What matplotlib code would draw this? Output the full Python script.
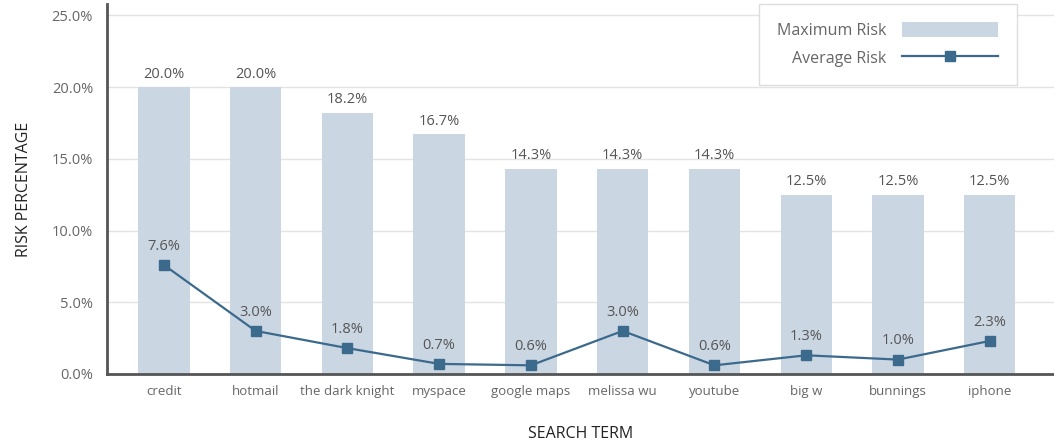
import matplotlib.pyplot as plt
import numpy as np

plt.rcParams['font.family'] = ['Open Sans', 'DejaVu Sans']

# Data
terms = ['credit', 'hotmail', 'the dark knight', 'myspace', 'google maps',
         'melissa wu', 'youtube', 'big w', 'bunnings', 'iphone']
max_risk = [20.0, 20.0, 18.2, 16.7, 14.3, 14.3, 14.3, 12.5, 12.5, 12.5]
avg_risk = [7.6, 3.0, 1.8, 0.7, 0.6, 3.0, 0.6, 1.3, 1.0, 2.3]
yticks = [0, 5, 10, 15, 20, 25]

bar_col = '#cbd6e3'
line_col = '#3b6a8d'
txt_col = '#666666'

fig = plt.figure(figsize=(10.54, 4.42), dpi=100)
ax = fig.add_axes([0.1015, 0.154, 0.8985, 0.837])

x = np.arange(len(terms))
bars = ax.bar(x, max_risk, width=0.56, color=bar_col, label='Maximum Risk', zorder=2)
line, = ax.plot(x, avg_risk, color=line_col, lw=1.6, marker='s', ms=7.5,
                label='Average Risk', zorder=3)

for xi, v in zip(x, max_risk):
    ax.annotate(f'{v:.1f}%', (xi, v), xytext=(0, 4), textcoords='offset points',
                ha='center', va='bottom', fontsize=10.5, color='#555555')
for xi, v in zip(x, avg_risk):
    ax.annotate(f'{v:.1f}%', (xi, v), xytext=(0, 8), textcoords='offset points',
                ha='center', va='bottom', fontsize=10.5, color='#555555')

ax.set_xlim(-0.62, 9.7)
ax.set_ylim(0, 25.8)
ax.set_yticks(yticks)
ax.set_yticklabels([f'{t:.1f}%' for t in yticks])
ax.set_xticks(x)
ax.set_xticklabels(terms)
ax.tick_params(axis='both', length=0, colors=txt_col)
ax.tick_params(axis='x', pad=8, labelsize=9.5)
ax.tick_params(axis='y', pad=10, labelsize=10.5)
ax.grid(axis='y', color='#e3e3e3', lw=1, zorder=0)

for s in ['top', 'right']:
    ax.spines[s].set_visible(False)
for s in ['left', 'bottom']:
    ax.spines[s].set_color('#555555')
    ax.spines[s].set_linewidth(2)
    ax.spines[s].set_zorder(4)

ax.set_ylabel('RISK PERCENTAGE', fontsize=11.5, color='#222222', labelpad=14)
ax.set_xlabel('SEARCH TERM', fontsize=11.5, color='#222222', labelpad=20)

leg = ax.legend([bars, line], ['Maximum Risk', 'Average Risk'],
                loc='upper right', bbox_to_anchor=(0.9605, 1.0), markerfirst=False,
                fontsize=11.5, handlelength=6.0, handleheight=1.0, labelspacing=0.7,
                borderpad=1.15, handletextpad=1.0, fancybox=False, framealpha=1,
                borderaxespad=0)
leg.get_frame().set_edgecolor('#dddddd')
leg.get_frame().set_linewidth(1)
for t in leg.get_texts():
    t.set_color(txt_col)

fig.savefig('out.png', dpi=100)
